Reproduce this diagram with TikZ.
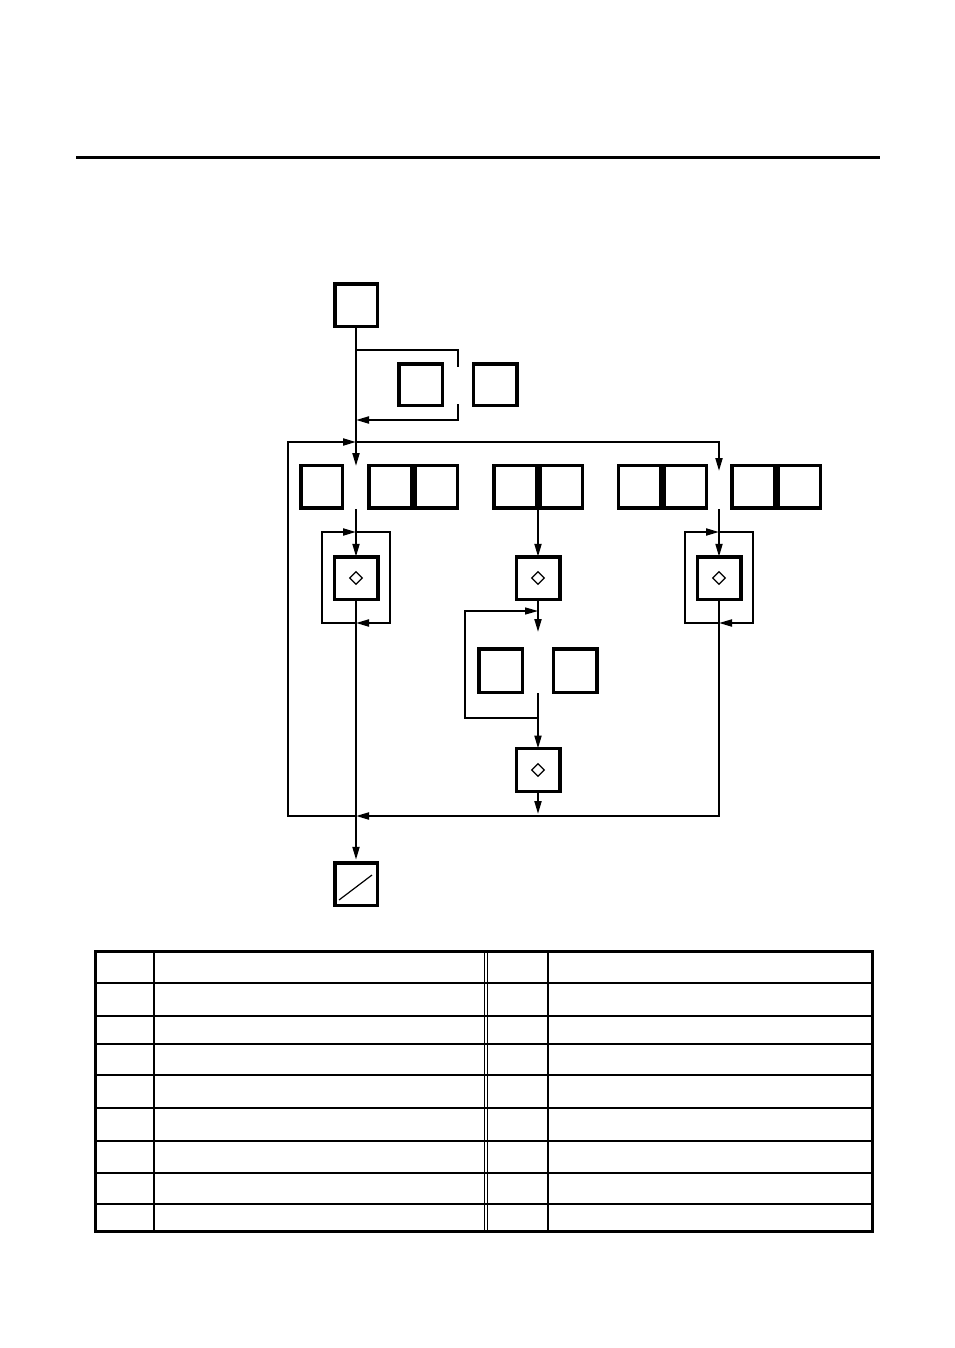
\documentclass[tikz,border=0pt]{standalone}
\usetikzlibrary{arrows.meta,shapes.geometric}
\begin{document}
\begin{tikzpicture}[x=1pt,y=-1pt,
  box/.style={draw,line width=3.5pt,inner sep=0pt,outer sep=0pt,minimum width=42.5pt,minimum height=42.5pt},
  conn/.style={line width=2pt},
  thinconn/.style={line width=1.4pt},
  arr/.style={conn,-{Triangle[length=13pt,width=7pt]}},
  thinarr/.style={thinconn,-{Triangle[length=13pt,width=7pt]}},
  mark diamond/.style={draw,diamond,line width=1.3pt,inner sep=0pt,minimum width=13pt,minimum height=13pt},
  tabthin/.style={line width=1.8pt},
  tabouter/.style={line width=3pt}]
\useasboundingbox (0,0) rectangle (954,1348);
% top rule
\draw[line width=3pt] (76,158) -- (880,158);
% boxes
\node[box] (start) at (356,305) {};
\node[box,minimum width=43.5pt,minimum height=41.5pt] (s1) at (420.5,384.5) {};
\node[box,minimum width=43.5pt,minimum height=41.5pt] (s2) at (495,384.5) {};
\node[box,minimum width=41.5pt] (ra) at (321.5,486.5) {};
\node[box] (rb1) at (390,486.5) {};
\node[box] (rb2) at (436,486.5) {};
\node[box] (rc1) at (515,486.5) {};
\node[box] (rc2) at (561,486.5) {};
\node[box] (rd1) at (639.5,486.5) {};
\node[box] (rd2) at (685,486.5) {};
\node[box] (re1) at (753,486.5) {};
\node[box] (re2) at (799,486.5) {};
\node[box,minimum width=43.5pt] (stepL) at (356,578) {};
\node[box,minimum width=43.5pt] (stepM) at (538,578) {};
\node[box,minimum width=43.5pt] (stepR) at (719,578) {};
\node[mark diamond] (dL) at (stepL) {};
\node[mark diamond] (dM) at (stepM) {};
\node[mark diamond] (dR) at (stepR) {};
\node[box,minimum width=43.5pt,minimum height=43.5pt] (m1) at (500.5,670.5) {};
\node[box,minimum width=43.5pt,minimum height=43.5pt] (m2) at (575,670.5) {};
\node[box,minimum width=43.5pt,minimum height=43pt] (step3) at (538,770) {};
\node[mark diamond] (d3) at (step3) {};
\node[box] (endbox) at (356,884) {};
\draw[line width=1.2pt] (endbox.center) ++(-17,16) -- ++(33,-25);
% coordinates
\coordinate (a1) at (356,466);
\coordinate (b1) at (356,350);
\coordinate (b2) at (458,367);
\coordinate (b3) at (458,404);
\coordinate (b4) at (356,420);
\coordinate (j1) at (356,442);
\coordinate (jr) at (719,471);
\coordinate (lt) at (356,509);
\coordinate (ll) at (356,623);
\coordinate (lu) at (356,532);
\coordinate (mt) at (538,509);
\coordinate (mb) at (538,632);
\coordinate (ml1) at (538,718);
\coordinate (ml2) at (538,611);
\coordinate (mt2) at (538,693);
\coordinate (mb2) at (538,814);
\coordinate (bot) at (356,816);
\coordinate (rt) at (719,509);
\coordinate (rl) at (719,623);
\coordinate (ru) at (719,532);
% main line and branch
\draw[arr] (start.south) -- (a1);
\draw[conn] (b1) -| (b2);
\draw[arr] (b3) |- (b4);
% outer loop
\draw[arr] (bot) -- (288,816) |- (j1);
\draw[arr] (j1) -| (jr);
% left column
\draw[arr] (lt) -- (stepL.north);
\draw[arr] (ll) -| (322,532) -- (lu);
\draw[arr] (lu) -| (390,623) -- (ll);
\draw[arr,shorten >=3pt] (stepL.south) -- (endbox.north);
% middle column
\draw[arr] (mt) -- (stepM.north);
\draw[arr] (stepM.south) -- (mb);
\draw[thinarr] (ml1) -| (465,611) -- (ml2);
\draw[arr] (mt2) -- (step3.north);
\draw[arr] (step3.south) -- (mb2);
% right column
\draw[arr] (rt) -- (stepR.north);
\draw[arr] (rl) -| (685,532) -- (ru);
\draw[arr] (ru) -| (753,623) -- (rl);
\draw[arr] (stepR.south) |- (bot);
% table
\foreach \yy in {983,1016,1044,1075,1108,1141,1173,1204}
  \draw[tabthin] (95,\yy) -- (872,\yy);
\draw[tabthin] (154,951) -- (154,1231);
\draw[line width=1.2pt] (484.5,951) -- (484.5,1231);
\draw[line width=1.2pt] (487.5,951) -- (487.5,1231);
\draw[tabthin] (548,951) -- (548,1231);
\draw[tabouter] (95,951) rectangle (872,1231);
\end{tikzpicture}
\end{document}
